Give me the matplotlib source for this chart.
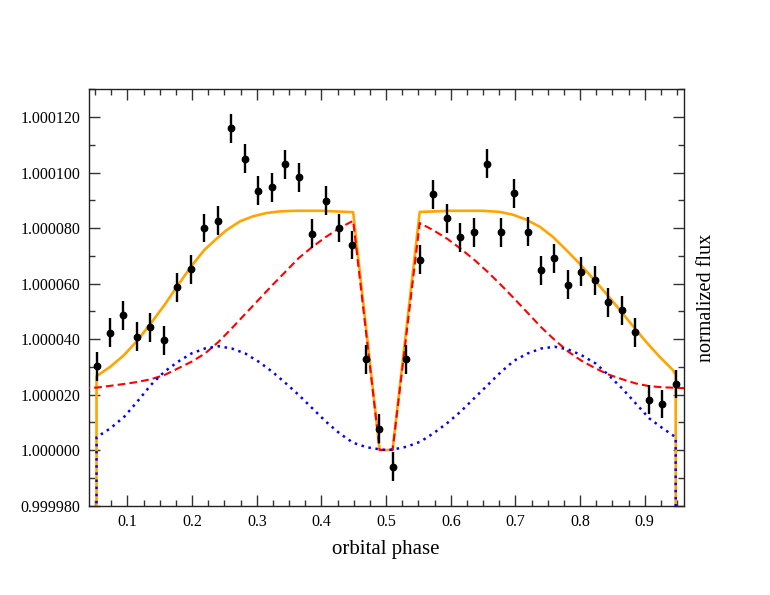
import numpy as np
import matplotlib
matplotlib.use("Agg")
import matplotlib.pyplot as plt
from matplotlib.ticker import MultipleLocator, FormatStrFormatter

plt.rcParams['font.family'] = ['Liberation Serif', 'DejaVu Serif']

# ---------------------------- data (flux offsets in ppm) ----------------------------
obs_phase = [0.0521, 0.0729, 0.0938, 0.1146, 0.1354, 0.1563, 0.1771, 0.1979, 0.2188, 0.2396,
             0.2604, 0.2813, 0.3021, 0.3229, 0.3438, 0.3646, 0.3854, 0.4063, 0.4271, 0.4479,
             0.4688, 0.4896, 0.5104, 0.5313, 0.5521, 0.5729, 0.5938, 0.6146, 0.6354, 0.6563,
             0.6771, 0.6979, 0.7188, 0.7396, 0.7604, 0.7813, 0.8021, 0.8229, 0.8438, 0.8646,
             0.8854, 0.9063, 0.9271, 0.9479]
obs_ppm = [30.2, 42.2, 48.6, 40.8, 44.2, 39.6, 58.7, 65.2, 80.0, 82.7,
           115.9, 104.9, 93.5, 94.6, 103.0, 98.2, 77.9, 89.8, 80.0, 73.9,
           32.7, 7.7, -6.0, 32.7, 68.6, 92.2, 83.5, 76.7, 78.4, 103.1,
           78.4, 92.5, 78.7, 64.7, 69.1, 59.6, 64.2, 61.1, 53.3, 50.3,
           42.4, 18.2, 16.6, 23.8]
obs_err = 5.2

# total model (orange)
tot_phase = [0.0521, 0.0521, 0.0734, 0.0946, 0.115, 0.136, 0.157, 0.178, 0.1986, 0.2193,
             0.24, 0.253, 0.274, 0.294, 0.315, 0.336, 0.36, 0.40, 0.449, 0.49,
             0.51, 0.552, 0.60, 0.65, 0.676, 0.696, 0.717, 0.738, 0.758, 0.779,
             0.799, 0.82, 0.841, 0.861, 0.882, 0.902, 0.923, 0.9436, 0.9479, 0.9479]
tot_ppm = [-100, 26.6, 30.0, 34.2, 39.4, 45.6, 52.2, 59.4, 66.2, 72.2,
           76.6, 79.2, 82.4, 84.2, 85.4, 86.0, 86.2, 86.2, 85.7, 0.0,
           0.0, 85.8, 86.2, 86.2, 85.8, 84.8, 83.0, 80.4, 76.8, 72.0,
           67.2, 61.8, 56.2, 50.6, 44.6, 39.0, 33.6, 28.8, 27.0, -100]

# reflection / thermal component (red dashed)
refl_phase = [0.03, 0.053, 0.095, 0.115, 0.136, 0.157, 0.178, 0.199, 0.22, 0.241, 0.261,
              0.282, 0.303, 0.324, 0.345, 0.365, 0.386, 0.407, 0.428, 0.449, 0.49,
              0.51, 0.552, 0.573, 0.594, 0.615, 0.636, 0.657, 0.678, 0.698, 0.719,
              0.740, 0.761, 0.782, 0.802, 0.824, 0.844, 0.865, 0.886, 0.907, 0.928, 0.97]
refl_ppm = [22.3, 22.5, 23.8, 24.5, 25.5, 27.0, 29.4, 31.8, 34.8, 39.0, 43.8,
            49.0, 54.2, 59.4, 64.4, 69.2, 73.2, 76.8, 80.0, 82.6, 0.0,
            0.0, 81.8, 79.2, 76.2, 72.6, 68.6, 64.2, 59.4, 54.6, 49.4,
            44.2, 39.6, 35.4, 32.2, 29.4, 27.2, 25.5, 24.0, 23.0, 22.6, 22.2]

# ellipsoidal component (blue dotted)
ell_phase = [0.0521, 0.0521, 0.0735, 0.095, 0.115, 0.136, 0.157, 0.178, 0.199, 0.22, 0.241,
             0.261, 0.282, 0.303, 0.324, 0.345, 0.365, 0.386, 0.407, 0.428, 0.449,
             0.47, 0.49, 0.50, 0.511, 0.532, 0.553, 0.573, 0.594, 0.615, 0.636,
             0.657, 0.678, 0.698, 0.719, 0.740, 0.761, 0.782, 0.802, 0.824, 0.844,
             0.865, 0.886, 0.907, 0.928, 0.9479, 0.9479]
ell_ppm = [-100, 4.6, 7.8, 12.0, 17.4, 23.4, 28.2, 31.8, 34.8, 36.6, 37.4,
           36.6, 34.8, 31.8, 28.2, 24.0, 19.8, 15.0, 10.2, 6.0, 2.6,
           1.0, 0.25, 0.0, 0.2, 1.2, 3.0, 6.0, 9.6, 13.8, 18.6,
           23.4, 28.2, 32.2, 34.8, 36.6, 37.2, 36.2, 34.2, 31.2, 27.0,
           22.2, 16.8, 11.4, 7.8, 4.6, -100]


def flux(ppm):
    return 1.0 + np.asarray(ppm) * 1e-6


# ---------------------------- plot ----------------------------
fig = plt.figure(figsize=(7.7, 5.95), dpi=100)
ax = fig.add_axes([0.1152, 0.1504, 0.7725, 0.6996])

ax.plot(tot_phase, flux(tot_ppm), color='#FFA500', lw=1.9, zorder=2)
ax.plot(refl_phase, flux(refl_ppm), color='#FF0000', lw=1.5,
        linestyle=(0, (3.7, 2.0)), zorder=3)
ax.plot(ell_phase, flux(ell_ppm), color='#0000FF', lw=1.8,
        linestyle=(0, (1, 1.85)), zorder=4)
ax.errorbar(obs_phase, flux(obs_ppm), yerr=obs_err * 1e-6, fmt='o', color='black',
            ms=4.6, elinewidth=1.7, capsize=0, zorder=5)

ax.set_xlim(0.04, 0.96)
ax.set_ylim(0.99998, 1.00013)

ax.xaxis.set_major_locator(MultipleLocator(0.1))
ax.xaxis.set_minor_locator(MultipleLocator(0.025))
ax.yaxis.set_major_locator(MultipleLocator(0.00002))
ax.yaxis.set_minor_locator(MultipleLocator(0.00001))
ax.yaxis.set_major_formatter(FormatStrFormatter('%.6f'))
ax.xaxis.set_major_formatter(FormatStrFormatter('%.1f'))

ax.tick_params(which='both', direction='in', top=True, right=True,
               labelsize=11.5, color='#333333', width=1.0)
ax.tick_params(which='major', length=7.7, pad=6)
ax.tick_params(which='minor', length=4.0)
for sp in ax.spines.values():
    sp.set_linewidth(1.0)
    sp.set_color('#222222')

ax.set_xlabel('orbital phase', fontsize=15, labelpad=7)
ax.yaxis.set_label_position('right')
ax.set_ylabel('normalized flux', fontsize=14.5, labelpad=10)

fig.savefig('out.png', dpi=100)
